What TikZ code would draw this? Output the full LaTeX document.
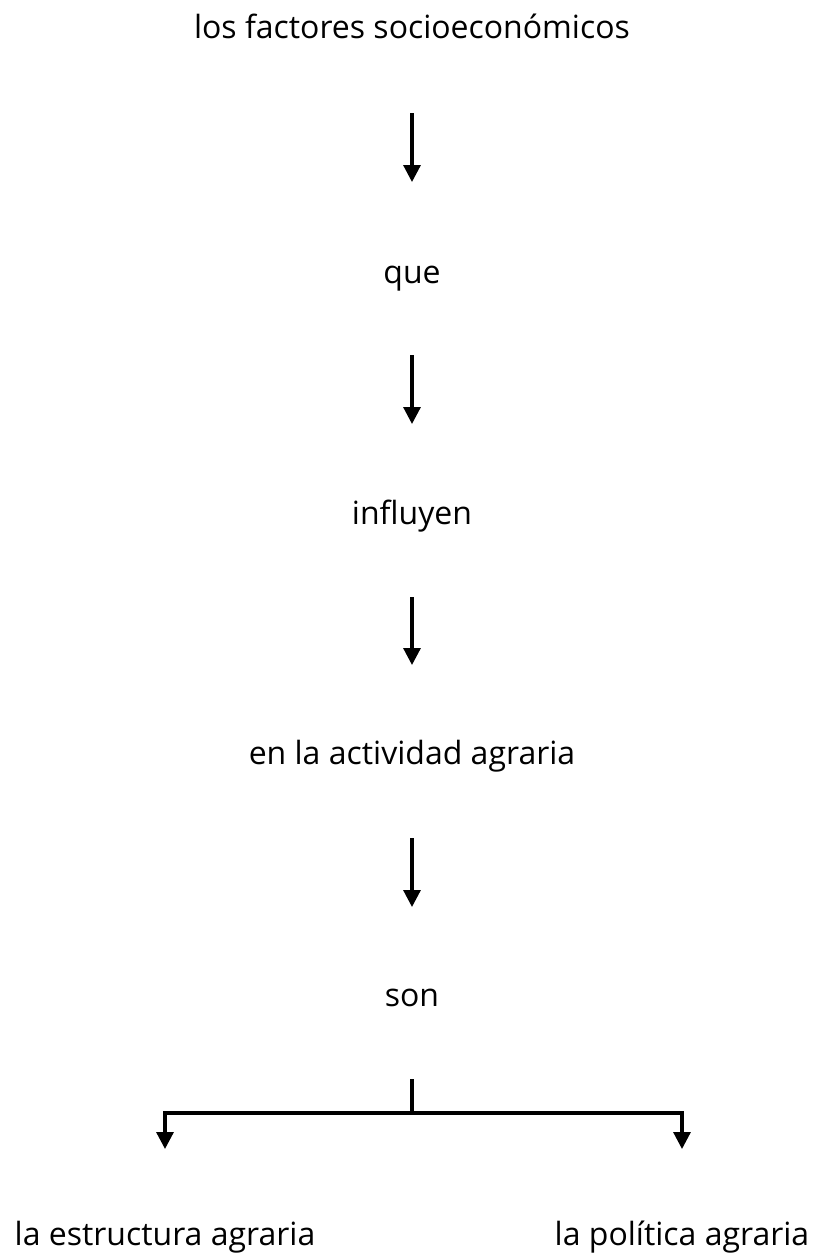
\documentclass[tikz,border=0pt]{standalone}
\usepackage{fontspec}
\setmainfont{Open Sans}
\usetikzlibrary{arrows.meta}
\begin{document}
\begin{tikzpicture}[x=1pt,y=1pt,
  lbl/.style={anchor=base,inner sep=0pt,font=\fontsize{32}{36}\selectfont},
  link/.style={line width=3.2pt},
  arr/.style={link,-{Triangle[width=17pt,length=17pt]}}]
\useasboundingbox[fill=white] (0,0) rectangle (816,-1256);
\node[lbl] (t1) at (412,-38) {los factores socioeconómicos};
\node[lbl] (t2) at (412,-283) {que};
\node[lbl] (t3) at (412,-524) {influyen};
\node[lbl] (t4) at (412,-764) {en la actividad agraria};
\node[lbl] (t5) at (412,-1006) {son};
\node[lbl] (t6) at (165,-1245) {la estructura agraria};
\node[lbl] (t7) at (682,-1245) {la política agraria};
\draw[arr] ([yshift=-75pt]t1.base) -- ([yshift=101pt]t2.base);
\draw[arr] ([yshift=-72pt]t2.base) -- ([yshift=100pt]t3.base);
\draw[arr] ([yshift=-73pt]t3.base) -- ([yshift=99pt]t4.base);
\draw[arr] ([yshift=-74pt]t4.base) -- ([yshift=99pt]t5.base);
\draw[link] ([yshift=-73pt]t5.base) -- ++(0,-34) coordinate (j);
\draw[arr] (j) -| ([yshift=96pt]t6.base);
\draw[arr] (j) -| ([yshift=96pt]t7.base);
\end{tikzpicture}
\end{document}
